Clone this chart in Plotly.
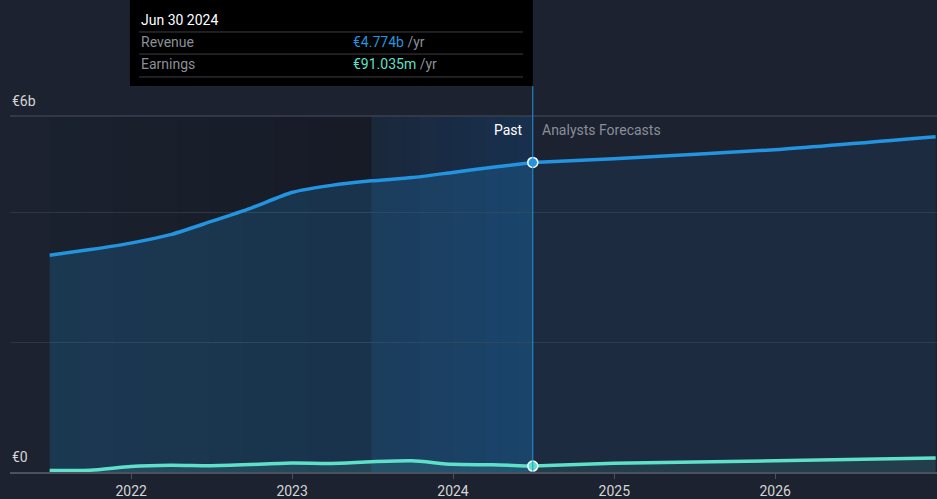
import plotly.graph_objects as go
import pandas as pd

# quarterly history (EUR billions)
past_dates = ["2021-06-30", "2021-09-30", "2021-12-31", "2022-03-31", "2022-06-30",
              "2022-09-30", "2022-12-31", "2023-03-31", "2023-06-30", "2023-09-30",
              "2023-12-31", "2024-03-31", "2024-06-30"]
past_revenue = [3.344, 3.43, 3.53, 3.66, 3.86, 4.07, 4.31, 4.42, 4.49, 4.54, 4.62, 4.70, 4.774]
past_earnings = [0.025, 0.027, 0.085, 0.105, 0.098, 0.115, 0.138, 0.133, 0.158, 0.172,
                 0.118, 0.112, 0.091]

# analyst forecasts
fc_dates = ["2024-06-30", "2024-12-31", "2025-12-31", "2026-12-31"]
fc_revenue = [4.774, 4.83, 4.97, 5.17]
fc_earnings = [0.091, 0.134, 0.174, 0.216]

x_ticks = ["2022-01-01", "2023-01-01", "2024-01-01", "2025-01-01", "2026-01-01"]
x_tick_text = ["2022", "2023", "2024", "2025", "2026"]

PAST_START = "2021-06-30"
BAND_START = "2023-06-30"
NOW = "2024-06-30"

BG = "#1c2230"
REV = "#2394df"
EARN = "#5fe0c9"
FONT = "Roboto"

fig = go.Figure()

# darker past region, fading to the right
steps = 10
edges = pd.date_range(PAST_START, BAND_START, periods=steps + 1)
for i in range(steps):
    fig.add_shape(type="rect", xref="x", yref="paper", x0=edges[i], x1=edges[i + 1],
                  y0=0, y1=1, line_width=0, layer="below",
                  fillcolor=f"rgba(10,12,18,{0.02 + 0.28 * (i + 1) / steps:.3f})")

# last-year highlight band
edges = pd.date_range(BAND_START, NOW, periods=steps + 1)
for i in range(steps):
    fig.add_shape(type="rect", xref="x", yref="paper", x0=edges[i], x1=edges[i + 1],
                  y0=0, y1=1, line_width=0, layer="below",
                  fillcolor=f"rgba(15,85,155,{0.10 + 0.18 * (i + 1) / steps:.3f})")

fig.add_trace(go.Scatter(x=past_dates, y=past_revenue, mode="lines", fill="tozeroy",
                         fillcolor="rgba(35,148,223,0.20)",
                         line=dict(color=REV, width=3.5, shape="spline", smoothing=0.6),
                         hoverinfo="skip"))
fig.add_trace(go.Scatter(x=fc_dates, y=fc_revenue, mode="lines", fill="tozeroy",
                         fillcolor="rgba(35,148,223,0.09)",
                         line=dict(color=REV, width=3.5, shape="spline", smoothing=0.6),
                         hoverinfo="skip"))
fig.add_trace(go.Scatter(x=past_dates, y=past_earnings, mode="lines", fill="tozeroy",
                         fillcolor="rgba(95,224,201,0.12)",
                         line=dict(color=EARN, width=3.5, shape="spline", smoothing=0.6),
                         hoverinfo="skip"))
fig.add_trace(go.Scatter(x=fc_dates, y=fc_earnings, mode="lines", fill="tozeroy",
                         fillcolor="rgba(95,224,201,0.10)",
                         line=dict(color=EARN, width=3.5, shape="spline", smoothing=0.6),
                         hoverinfo="skip"))

# markers at the current point
fig.add_trace(go.Scatter(x=[NOW], y=[past_revenue[-1]], mode="markers",
                         marker=dict(size=10, color=REV, line=dict(color="white", width=1.5)),
                         hoverinfo="skip"))
fig.add_trace(go.Scatter(x=[NOW], y=[past_earnings[-1]], mode="markers",
                         marker=dict(size=10, color=EARN, line=dict(color="white", width=1.5)),
                         hoverinfo="skip"))

# top line of plot
fig.add_shape(type="line", xref="paper", yref="paper", x0=0, x1=1, y0=1, y1=1,
              line=dict(color="#3a414d", width=1.5))

# vertical marker line
fig.add_shape(type="line", xref="x", yref="paper", x0=NOW, x1=NOW, y0=0, y1=1.084,
              line=dict(color=REV, width=1))

# tooltip box
fig.add_shape(type="rect", xref="paper", yref="paper", x0=0.1294, x1=0.564,
              y0=1.084, y1=1.33, fillcolor="#000000", line_width=0)
for yy in [1.236, 1.174, 1.1096]:
    fig.add_shape(type="line", xref="paper", yref="paper", x0=0.1392, x1=0.5534,
                  y0=yy, y1=yy, line=dict(color="#3b3f45", width=1))

ann = [
    dict(x=0.1392, y=1.2697, text="Jun 30 2024", color="#ffffff", size=14, xanchor="left"),
    dict(x=0.1392, y=1.2079, text="Revenue", color="#8a8f98", size=14, xanchor="left"),
    dict(x=0.3678, y=1.2079, text=f"<span style='color:{REV}'>€4.774b</span> /yr",
         color="#8a8f98", size=14, xanchor="left"),
    dict(x=0.1392, y=1.146, text="Earnings", color="#8a8f98", size=14, xanchor="left"),
    dict(x=0.3678, y=1.146, text=f"<span style='color:{EARN}'>€91.035m</span> /yr",
         color="#8a8f98", size=14, xanchor="left"),
    dict(x=0.5555, y=0.9607, text="Past", color="#ffffff", size=14, xanchor="right"),
    dict(x=0.5717, y=0.9607, text="Analysts Forecasts", color="#8a8f98", size=14,
         xanchor="left"),
    dict(x=0.0, y=1.042, text="€6b", color="#d6d6d6", size=14, xanchor="left"),
    dict(x=0.0, y=0.042, text="€0", color="#d6d6d6", size=14, xanchor="left"),
]
for a in ann:
    fig.add_annotation(x=a["x"], y=a["y"], xref="paper", yref="paper", text=a["text"],
                       showarrow=False, xanchor=a["xanchor"], yanchor="middle",
                       font=dict(family=FONT, size=a["size"], color=a["color"]))

fig.update_layout(
    width=937, height=499,
    margin=dict(l=10, r=0, t=116, b=27),
    paper_bgcolor=BG, plot_bgcolor=BG,
    showlegend=False,
    hovermode=False,
    font=dict(family=FONT, color="#d6d6d6"),
    xaxis=dict(type="date", range=["2021-04-01", "2027-01-03"],
               tickvals=x_ticks, ticktext=x_tick_text,
               showgrid=False, zeroline=False,
               showline=True, linecolor="#4b525e", linewidth=1.5,
               ticks="outside", ticklen=5, tickcolor="#4b525e",
               tickfont=dict(family=FONT, size=14, color="#d6d6d6")),
    yaxis=dict(range=[0, 5.49], tickvals=[0, 2, 4], showticklabels=False,
               showgrid=True, gridcolor="#2f3642", gridwidth=1, zeroline=False,
               fixedrange=True),
)

# page has a default body margin; remove it so the figure fills the window
fig.write_html("out.html", config={"displayModeBar": False},
               post_script="document.body.style.margin='0';"
                           "document.body.style.background='#1c2230';")
